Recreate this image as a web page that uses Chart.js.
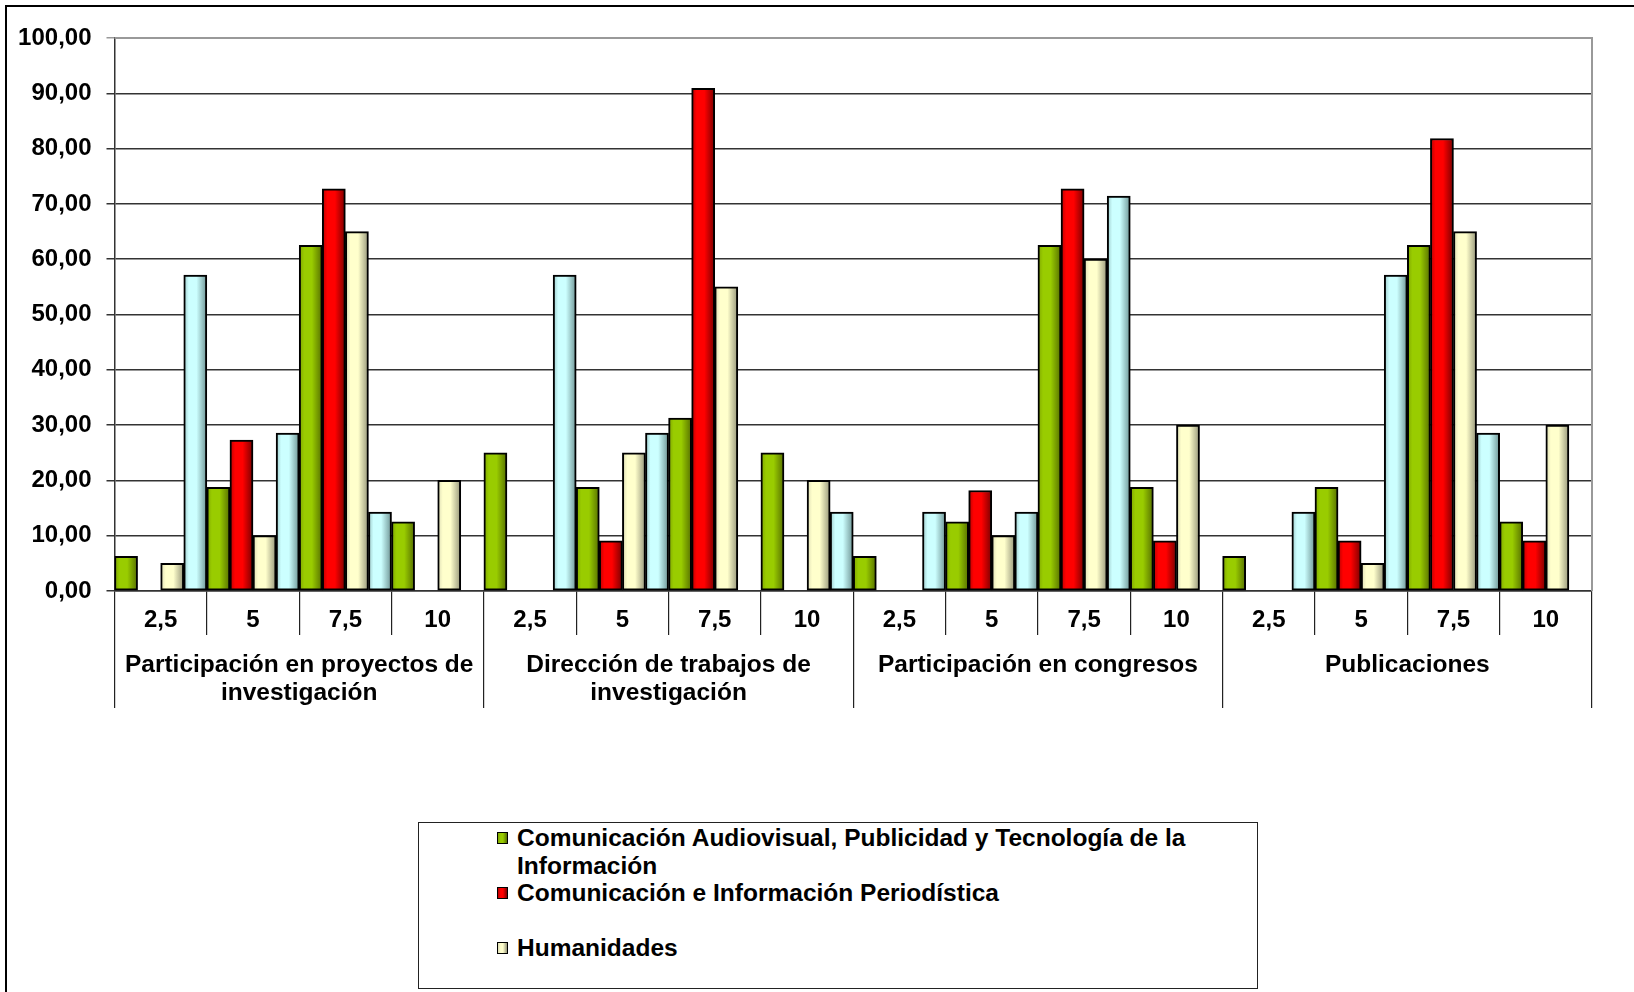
<!DOCTYPE html>
<html>
<head>
<meta charset="utf-8">
<script src="https://cdn.jsdelivr.net/npm/chart.js@4.4.1/dist/chart.umd.min.js"></script>
<style>
  html, body { margin:0; padding:0; background:#fff; width:1634px; height:992px; overflow:hidden; }
  #frame { position:absolute; left:5px; top:5px; width:1700px; height:1100px; border:2px solid #000; box-sizing:border-box; }
  #wrap { position:absolute; left:0; top:0; width:1634px; height:992px; }
  #legend { position:absolute; left:418px; top:822px; width:840px; height:167px; border:1.5px solid #222; box-sizing:border-box;
            font:bold 24.5px 'Liberation Sans', Arial, sans-serif; color:#000; background:#fff; padding-top:1px; }
  .row { position:relative; line-height:27.5px; min-height:27.5px; }
  .row .mk { position:absolute; left:78px; top:8px; width:9px; height:10px; border:1px solid #000; }
  .row .tx { margin-left:98px; width:720px; display:block; }
</style>
</head>
<body>
<div id="frame"></div>
<div id="wrap"><canvas id="c" width="1634" height="992"></canvas></div>
<div id="legend"></div>
<script>
// ---------- data ----------
const groupLabels = [
  ['Participación en proyectos de', 'investigación'],
  ['Dirección de trabajos de', 'investigación'],
  'Participación en congresos',
  'Publicaciones'
];
const scoreLabels = ['2,5', '5', '7,5', '10'];
const categories = groupLabels.flatMap(() => scoreLabels);

const seriesNames = [
  'Comunicación Audiovisual, Publicidad y Tecnología de la Información',
  'Comunicación e Información Periodística',
  'Humanidades',
  ''
];
const audiovisual = [6.25, 18.75, 62.50, 12.50,  25.00, 18.75, 31.25, 25.00,  6.25, 12.50, 62.50, 18.75,  6.25, 18.75, 62.50, 12.50];
const periodistica = [0, 27.27, 72.73, 0,  0, 9.09, 90.91, 0,  0, 18.18, 72.73, 9.09,  0, 9.09, 81.82, 9.09];
const humanidades = [5.00, 10.00, 65.00, 20.00,  0, 25.00, 55.00, 20.00,  0, 10.00, 60.00, 30.00,  0, 5.00, 65.00, 30.00];
const sinNombre = [57.14, 28.57, 14.29, 0,  57.14, 28.57, 0, 14.29,  14.29, 14.29, 71.43, 0,  14.29, 57.14, 28.57, 0];
const seriesValues = [audiovisual, periodistica, humanidades, sinNombre];
const legendOrder = [0, 1, 3, 2];

// ---------- styles ----------
const palettes = [
  { left:'#7FA600', base:'#99CC00', right:'#566F00' },
  { left:'#B80000', base:'#FF0000', right:'#7A0000' },
  { left:'#DCDCB4', base:'#FFFFCC', right:'#96967A' },
  { left:'#9CC8C8', base:'#CCFFFF', right:'#6E9494' }
];
const FONT = "'Liberation Sans', Arial, sans-serif";

function shade(ctx) {
  const p = palettes[ctx.datasetIndex];
  if (ctx.type !== 'data') return p.base;
  const chart = ctx.chart;
  const xs = chart.scales && chart.scales.x;
  if (!xs) return p.base;
  const catW = (xs.right - xs.left) / categories.length;
  const bw = catW / seriesValues.length;
  const cx = xs.getPixelForValue(ctx.dataIndex);
  const left = cx - catW / 2 + ctx.datasetIndex * bw;
  if (!isFinite(left) || !isFinite(bw) || bw <= 0) return p.base;
  const g = chart.ctx.createLinearGradient(left, 0, left + bw, 0);
  g.addColorStop(0, p.left);
  g.addColorStop(0.22, p.base);
  g.addColorStop(0.55, p.base);
  g.addColorStop(1, p.right);
  return g;
}

const plotFrame = {
  id: 'plotFrame',
  afterDraw(chart) {
    const { ctx, chartArea: a } = chart;
    ctx.save();
    ctx.strokeStyle = '#999';
    ctx.lineWidth = 2;
    ctx.beginPath();
    ctx.moveTo(a.left, a.top);
    ctx.lineTo(a.right, a.top);
    ctx.lineTo(a.right, a.bottom);
    ctx.stroke();
    ctx.restore();
  }
};

const datasets = seriesValues.map((vals, i) => ({
  label: seriesNames[i],
  data: vals,
  backgroundColor: shade,
  borderColor: '#000',
  borderWidth: 2,
  borderSkipped: false,
  categoryPercentage: 1.0,
  barPercentage: 1.0
}));

new Chart(document.getElementById('c'), {
  type: 'bar',
  data: { labels: categories, datasets },
  plugins: [plotFrame],
  options: {
    responsive: false,
    animation: false,
    events: [],
    layout: { padding: { left: 0, right: 42, top: 38, bottom: 284 } },
    plugins: { legend: { display: false }, tooltip: { enabled: false } },
    scales: {
      y: {
        min: 0, max: 100,
        afterFit: s => { s.width = 114.5; },
        ticks: {
          stepSize: 10,
          padding: 15,
          color: '#000',
          font: { family: FONT, size: 24, weight: 'bold' },
          callback: v => Number(v).toFixed(2).replace('.', ',')
        },
        grid: {
          color: c => (c.tick && c.tick.value === 100) ? '#999' : '#333',
          lineWidth: 1.5,
          tickLength: 8
        },
        border: { color: '#333', width: 1.5 }
      },
      x: {
        weight: 0,
        afterFit: s => { s.height = 44; },
        ticks: {
          autoSkip: false, maxRotation: 0, padding: -29,
          color: '#000',
          font: { family: FONT, size: 24, weight: 'bold' }
        },
        grid: { display: true, offset: true, drawOnChartArea: false, tickLength: 44, color: '#222', lineWidth: 1.2 },
        border: { display: true, color: '#333', width: 1.5 }
      },
      x2: {
        type: 'category',
        position: 'bottom',
        weight: 1,
        labels: groupLabels,
        offset: true,
        afterFit: s => { s.height = 73; },
        ticks: {
          autoSkip: false, maxRotation: 0, padding: -57,
          color: '#000',
          font: { family: FONT, size: 24.5, weight: 'bold', lineHeight: 1.15 }
        },
        grid: { display: true, offset: true, drawOnChartArea: false, tickLength: 73, color: '#222', lineWidth: 1.2 },
        border: { display: false }
      }
    }
  }
});

// ---------- legend ----------
const leg = document.getElementById('legend');
legendOrder.forEach(i => {
  const row = document.createElement('div');
  row.className = 'row';
  if (seriesNames[i]) {
    const mk = document.createElement('span');
    mk.className = 'mk';
    const p = palettes[i];
    mk.style.background = 'linear-gradient(90deg,' + p.left + ' 0%,' + p.base + ' 30%,' + p.base + ' 55%,' + p.right + ' 100%)';
    row.appendChild(mk);
  }
  const tx = document.createElement('span');
  tx.className = 'tx';
  tx.textContent = seriesNames[i] || '\u00a0';
  row.appendChild(tx);
  leg.appendChild(row);
});
</script>
</body>
</html>
